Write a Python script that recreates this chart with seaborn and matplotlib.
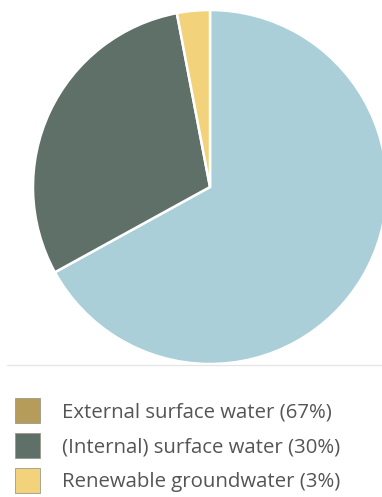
import matplotlib
matplotlib.use("Agg")
import matplotlib.pyplot as plt
from matplotlib.patches import Patch
from matplotlib.lines import Line2D
import seaborn as sns

# Water resource shares
categories = ["External surface water", "(Internal) surface water", "Renewable groundwater"]
shares = [67, 30, 3]
pie_colors = ["#aacfd8", "#5f7068", "#f2d27a"]
legend_colors = ["#b59c5a", "#5f7068", "#f2d27a"]

sns.set_theme(style="white")
plt.rcParams["font.family"] = ["Open Sans", "DejaVu Sans"]

W, H = 382, 497
fig = plt.figure(figsize=(W / 100, H / 100), dpi=100)
fig.patch.set_facecolor("white")

cx, cy, r = 210, 187, 177
ax = fig.add_axes([(cx - r) / W, (H - cy - r) / H, 2 * r / W, 2 * r / H])
ax.pie(shares, colors=pie_colors, startangle=90, counterclock=False,
       wedgeprops=dict(edgecolor="white", linewidth=1.8), radius=1.0)
ax.set_xlim(-1, 1)
ax.set_ylim(-1, 1)
ax.set_aspect("auto")
ax.axis("off")

# Divider between chart and legend
fig.add_artist(Line2D([7 / W, 1.0], [1 - 365 / H, 1 - 365 / H],
                      color="#e6e6e6", linewidth=1.0, transform=fig.transFigure))

handles = [Patch(facecolor=c, edgecolor="#9a9a8a", linewidth=0.6) for c in legend_colors]
labels = [f"{c} ({v}%)" for c, v in zip(categories, shares)]
fig.legend(handles, labels, loc="upper left",
           bbox_to_anchor=(15 / W, 1 - 398 / H), frameon=False,
           fontsize=14.7, labelcolor="#555555",
           handlelength=1.22, handleheight=1.52, handletextpad=1.08,
           labelspacing=0.47, borderpad=0, borderaxespad=0)

fig.savefig("out.png", dpi=100, facecolor="white")
